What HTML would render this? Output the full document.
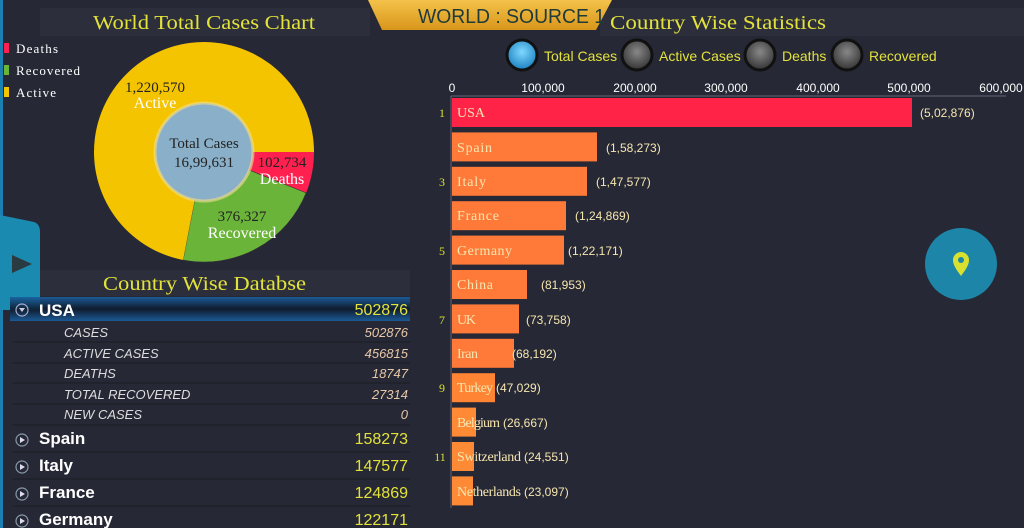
<!DOCTYPE html>
<html><head><meta charset="utf-8"><style>
body{margin:0;width:1024px;height:528px;overflow:hidden;background:#262835;font-family:"Liberation Sans",sans-serif}
svg{display:block}
.s{font-family:"Liberation Serif",serif}
</style></head><body>
<svg width="1024" height="528" viewBox="0 0 1024 528">
<defs>
<linearGradient id="gold" x1="0" y1="0" x2="0" y2="1"><stop offset="0" stop-color="#f4c24a"/><stop offset="1" stop-color="#d8961a"/></linearGradient>
<radialGradient id="blue" cx="0.5" cy="0.4" r="0.6"><stop offset="0" stop-color="#7fd8ff"/><stop offset="1" stop-color="#1a80c0"/></radialGradient>
<radialGradient id="grey" cx="0.5" cy="0.4" r="0.6"><stop offset="0" stop-color="#888"/><stop offset="1" stop-color="#333"/></radialGradient>
<linearGradient id="glow" x1="0" y1="0" x2="0" y2="1"><stop offset="0" stop-color="#1a5fa0"/><stop offset="0.5" stop-color="#0d1a2c"/><stop offset="1" stop-color="#1a5fa0"/></linearGradient>
</defs>
<rect width="1024" height="528" fill="#262835"/>
<rect x="0" y="0" width="3" height="528" fill="#1b7fb0"/>
<rect x="40" y="8" width="330" height="28" fill="#2c2f3b"/>
<rect x="40" y="270" width="370" height="26" fill="#2c2f3b"/>
<rect x="600" y="8" width="424" height="28" fill="#2c2f3b"/>
<text x="93" y="29" class="s" font-size="20" fill="#e2e23a" textLength="222" lengthAdjust="spacingAndGlyphs">World Total Cases Chart</text>
<text x="103" y="290" class="s" font-size="20" fill="#e2e23a" textLength="203" lengthAdjust="spacingAndGlyphs">Country Wise Databse</text>
<text x="610" y="29" class="s" font-size="20" fill="#e2e23a" textLength="216" lengthAdjust="spacingAndGlyphs">Country Wise Statistics</text>
<polygon points="368,0 612,0 596,30 382,30" fill="url(#gold)"/>
<text x="418" y="23" font-size="20" fill="#1e3a3a" textLength="187" lengthAdjust="spacingAndGlyphs">WORLD : SOURCE 1</text>
<rect x="4" y="43" width="5" height="10" fill="#ff2050"/><text x="16" y="53" font-size="13" fill="#fff" class="s" textLength="42">Deaths</text>
<rect x="4" y="65" width="5" height="10" fill="#6bb43a"/><text x="16" y="75" font-size="13" fill="#fff" class="s" textLength="64">Recovered</text>
<rect x="4" y="87" width="5" height="10" fill="#f5c400"/><text x="16" y="97" font-size="13" fill="#fff" class="s" textLength="40">Active</text>
<path d="M204,152 L314,152 A110,110 0 0,1 306.1,192.9 Z" fill="#ff2050"/>
<path d="M204,152 L306.1,192.9 A110,110 0 0,1 183.1,260 Z" fill="#6bb43a" stroke="#333" stroke-width="0.6"/>
<path d="M204,152 L183.1,260 A110,110 0 1,1 314,152 Z" fill="#f5c400"/>
<circle cx="204" cy="152" r="49" fill="#8aafc8" stroke="#f3e08a" stroke-width="3" stroke-opacity="0.6"/>
<text x="204" y="148" text-anchor="middle" class="s" font-size="15" fill="#222">Total Cases</text>
<text x="204" y="167" text-anchor="middle" class="s" font-size="15" fill="#222">16,99,631</text>
<text x="155" y="92" text-anchor="middle" class="s" font-size="15" fill="#222">1,220,570</text>
<text x="155" y="108" text-anchor="middle" class="s" font-size="16" fill="#fff">Active</text>
<text x="282" y="167" text-anchor="middle" class="s" font-size="15" fill="#222">102,734</text>
<text x="282" y="184" text-anchor="middle" class="s" font-size="16" fill="#fff">Deaths</text>
<text x="242" y="221" text-anchor="middle" class="s" font-size="15" fill="#222">376,327</text>
<text x="242" y="238" text-anchor="middle" class="s" font-size="16" fill="#fff">Recovered</text>
<path d="M0,215 L34,222 Q40,224 40,232 L40,310 L0,310 Z" fill="#1a8ab0"/>
<polygon points="12,255 32,264 12,273" fill="#2a3a40"/>
<rect x="10" y="297" width="400" height="24" fill="url(#glow)" opacity="0.9"/>
<circle cx="22" cy="310" r="6" fill="none" stroke="#aac" stroke-width="1.2"/><polygon points="19,308 25,308 22,312" fill="#ccd"/>
<text x="39" y="316" font-size="17" font-weight="bold" fill="#fff">USA</text>
<text x="408" y="315" text-anchor="end" font-size="16" fill="#e2e23a">502876</text>
<g font-size="13" font-style="italic" fill="#ddd">
<text x="64" y="337">CASES</text><text x="64" y="358">ACTIVE CASES</text><text x="64" y="378">DEATHS</text><text x="64" y="399">TOTAL RECOVERED</text><text x="64" y="419">NEW CASES</text></g>
<g font-size="13" font-style="italic" fill="#e8c8a8" text-anchor="end">
<text x="408" y="337">502876</text><text x="408" y="358">456815</text><text x="408" y="378">18747</text><text x="408" y="399">27314</text><text x="408" y="419">0</text></g>
<g stroke="#1a1c24" stroke-width="1"><line x1="12" y1="342" x2="410" y2="342"/><line x1="12" y1="363" x2="410" y2="363"/><line x1="12" y1="383" x2="410" y2="383"/><line x1="12" y1="404" x2="410" y2="404"/><line x1="12" y1="425" x2="410" y2="425"/><line x1="12" y1="452" x2="410" y2="452"/><line x1="12" y1="479" x2="410" y2="479"/><line x1="12" y1="506" x2="410" y2="506"/></g>
<g font-size="17" font-weight="bold" fill="#fff">
<text x="39" y="444">Spain</text><text x="39" y="471">Italy</text><text x="39" y="498">France</text><text x="39" y="525">Germany</text></g>
<g font-size="16" fill="#e2e23a" text-anchor="end">
<text x="408" y="444">158273</text><text x="408" y="471">147577</text><text x="408" y="498">124869</text><text x="408" y="525">122171</text></g>
<g fill="#fff" stroke="#89a" stroke-width="1.2">
<circle cx="22" cy="440" r="6" fill="none"/><circle cx="22" cy="467" r="6" fill="none"/><circle cx="22" cy="494" r="6" fill="none"/><circle cx="22" cy="521" r="6" fill="none"/></g>
<g fill="#dde"><polygon points="20,437 25,440 20,443"/><polygon points="20,464 25,467 20,470"/><polygon points="20,491 25,494 20,497"/><polygon points="20,518 25,521 20,524"/></g>
<g stroke="#111" stroke-width="3">
<circle cx="522" cy="55" r="15" fill="url(#blue)"/><circle cx="637" cy="55" r="15" fill="url(#grey)"/><circle cx="760" cy="55" r="15" fill="url(#grey)"/><circle cx="847" cy="55" r="15" fill="url(#grey)"/></g>
<g font-size="14" fill="#e2e23a"><text x="544" y="61">Total Cases</text><text x="659" y="61">Active Cases</text><text x="782" y="61">Deaths</text><text x="869" y="61">Recovered</text></g>
<g font-size="12" fill="#fff" text-anchor="middle">
<text x="452" y="92">0</text><text x="543" y="92">100,000</text><text x="635" y="92">200,000</text><text x="726" y="92">300,000</text><text x="818" y="92">400,000</text><text x="909" y="92">500,000</text><text x="1001" y="92">600,000</text></g>
<line x1="451" y1="96" x2="1006" y2="96" stroke="#667" stroke-width="1"/>
<line x1="451" y1="96" x2="451" y2="508" stroke="#667" stroke-width="1"/>
<rect x="452" y="98" width="460" height="29" fill="#ff2348"/>
<g fill="#ff7a38">
<rect x="452" y="132.4" width="145" height="29"/><rect x="452" y="166.8" width="135" height="29"/><rect x="452" y="201.2" width="114" height="29"/><rect x="452" y="235.6" width="112" height="29"/><rect x="452" y="270" width="75" height="29"/><rect x="452" y="304.4" width="67" height="29"/><rect x="452" y="338.8" width="62" height="29"/><rect x="452" y="373.2" width="43" height="29" fill="#ff8535"/><rect x="452" y="407.6" width="24" height="29" fill="#ff8a35"/><rect x="452" y="442" width="22" height="29" fill="#ff8a35"/><rect x="452" y="476.4" width="21" height="29" fill="#ff8a35"/></g>
<g class="s" font-size="14" fill="#f6e6b0" lengthAdjust="spacingAndGlyphs">
<text x="457" y="117" textLength="28">USA</text><text x="457" y="152" textLength="35">Spain</text><text x="457" y="186" textLength="29">Italy</text><text x="457" y="220" textLength="42">France</text><text x="457" y="255" textLength="55">Germany</text><text x="457" y="289" textLength="36">China</text><text x="457" y="324" textLength="19">UK</text><text x="457" y="358" textLength="21">Iran</text><text x="457" y="392" textLength="36">Turkey</text><text x="457" y="427" textLength="43">Belgium</text><text x="457" y="461" textLength="64">Switzerland</text><text x="457" y="496" textLength="64">Netherlands</text></g>
<g font-size="12" fill="#f6e6b0">
<text x="920" y="117">(5,02,876)</text><text x="606" y="152">(1,58,273)</text><text x="596" y="186">(1,47,577)</text><text x="575" y="220">(1,24,869)</text><text x="568" y="255">(1,22,171)</text><text x="541" y="289">(81,953)</text><text x="526" y="324">(73,758)</text><text x="512" y="358">(68,192)</text><text x="496" y="392">(47,029)</text><text x="503" y="427">(26,667)</text><text x="524" y="461">(24,551)</text><text x="524" y="496">(23,097)</text></g>
<g class="s" font-size="12" fill="#d8e030" text-anchor="middle">
<text x="442" y="117">1</text><text x="442" y="186">3</text><text x="442" y="255">5</text><text x="442" y="324">7</text><text x="442" y="392">9</text><text x="440" y="461">11</text></g>
<circle cx="961" cy="264" r="36" fill="#1d86a8"/>
<path d="M961,276 C955,268 953,264 953,260 A8,8 0 0,1 969,260 C969,264 967,268 961,276 Z" fill="#d8e030"/>
<circle cx="961" cy="260" r="3" fill="#1d86a8"/>
</svg>
</body></html>
